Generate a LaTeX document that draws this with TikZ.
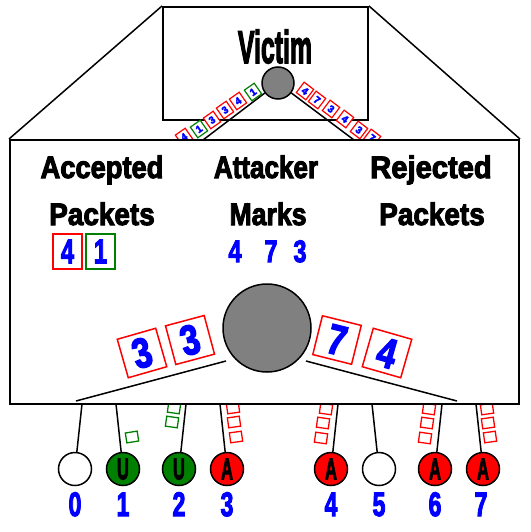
\documentclass[tikz,border=0pt]{standalone}
\usepackage{fontspec}
\usepackage{graphicx}
\setmainfont{Liberation Sans}[BoldFeatures={FakeBold=3.5}]
\definecolor{pred}{HTML}{FF0000}
\definecolor{pgreen}{HTML}{008000}
\definecolor{pblue}{HTML}{0000FF}
\definecolor{pgray}{HTML}{808080}
\newcommand\narrow[2]{\scalebox{#1}[1]{#2}}
\begin{document}
\begin{tikzpicture}[x=1pt,y=-1pt,
  frame/.style={draw=black, line width=2pt, fill=white, inner sep=0pt},
  link/.style={draw=black, line width=1.5pt},
  router/.style={circle, draw=black, line width=1.5pt, fill=pgray, inner sep=0pt},
  host/.style={circle, draw=black, line width=1.5pt, minimum size=33pt, inner sep=0pt, fill=white},
  uhost/.style={host, fill=pgreen},
  ahost/.style={host, fill=pred},
  hostletter/.style={font=\fontsize{30}{30}\selectfont\bfseries, text=black, inner sep=0pt},
  hostnum/.style={anchor=base, font=\fontsize{34}{34}\selectfont\bfseries, text=pblue, inner sep=0pt},
  head/.style={anchor=base, font=\fontsize{31}{31}\selectfont\bfseries, inner sep=0pt},
  pkt/.style={draw=pred, fill=white, line width=1.2pt, minimum width=12pt, minimum height=13pt,
              inner sep=0pt, text=pblue, font=\fontsize{10}{10}\selectfont\bfseries},
  gpkt/.style={pkt, draw=pgreen},
  bigpkt/.style={draw=pred, fill=white, line width=1.5pt, minimum size=40pt, inner sep=0pt,
                 text=pblue, font=\fontsize{42}{42}\selectfont\bfseries},
  markbox/.style={draw=pred, line width=1.5pt, minimum width=29pt, minimum height=35pt, inner sep=0pt,
               text=pblue, font=\fontsize{34}{34}\selectfont\bfseries},
  gmarkbox/.style={markbox, draw=pgreen},
  marknum/.style={anchor=base, font=\fontsize{31}{31}\selectfont\bfseries, text=pblue, inner sep=0pt},
  sq/.style={draw=pred, line width=1.3pt, minimum width=12pt, minimum height=10pt, inner sep=0pt},
  gsq/.style={sq, draw=pgreen}
]
\useasboundingbox (0,0) rectangle (530,532);

% victim enclosure
\node[frame, minimum width=205pt, minimum height=113pt] (topbox) at (265.5,63.5) {};
\node[anchor=base, font=\fontsize{46}{46}\selectfont\bfseries, inner sep=0pt] (victimlabel) at (275,63) {\narrow{0.54}{Victim}};
\node[router, minimum size=32pt] (victim) at (278,83) {};

% upstream links into the victim
\coordinate (vl) at (203,140);
\coordinate (vr) at (354,140);
\draw[link] (victim) -- (vl);
\draw[link] (victim) -- (vr);

% packets travelling on the left link
\node[gpkt, rotate=35] (l1) at (253,92)  {1};
\node[pkt,  rotate=35] (l2) at (238,101) {4};
\node[pkt,  rotate=35] (l3) at (225,110) {3};
\node[pkt,  rotate=35] (l4) at (212,120) {3};
\node[gpkt, rotate=35] (l5) at (199,129) {1};
\node[pkt,  rotate=35] (l6) at (184,137) {4};

% packets travelling on the right link
\node[pkt, rotate=-37] (r1) at (305,91)  {4};
\node[pkt, rotate=-37] (r2) at (317,100) {7};
\node[pkt, rotate=-37] (r3) at (331,109) {3};
\node[pkt, rotate=-37] (r4) at (345,119) {4};
\node[pkt, rotate=-37] (r5) at (359,130) {3};
\node[pkt, rotate=-37] (r6) at (372,138) {7};

% end hosts
\node[host]  (h0) at (75,469)  {};
\node[uhost] (h1) at (123,469) {};
\node[uhost] (h2) at (179,469) {};
\node[ahost] (h3) at (227,469) {};
\node[ahost] (h4) at (331,469) {};
\node[host]  (h5) at (379,469) {};
\node[ahost] (h6) at (435,469) {};
\node[ahost] (h7) at (483,469) {};

\node[hostletter] (u1) at (h1) {\narrow{0.55}{U}};
\node[hostletter] (u2) at (h2) {\narrow{0.55}{U}};
\node[hostletter] (a3) at (h3) {\narrow{0.55}{A}};
\node[hostletter] (a4) at (h4) {\narrow{0.55}{A}};
\node[hostletter] (a6) at (h6) {\narrow{0.55}{A}};
\node[hostletter] (a7) at (h7) {\narrow{0.55}{A}};

% host access links
\coordinate (t0) at (82,404);
\coordinate (t1) at (116,404);
\coordinate (t2) at (186,404);
\coordinate (t3) at (220,404);
\coordinate (t4) at (338,404);
\coordinate (t5) at (372,404);
\coordinate (t6) at (442,404);
\coordinate (t7) at (476,404);
\foreach \i in {0,...,7} { \draw[link] (t\i) -- (h\i); }

% packets leaving the hosts
\node[gsq, rotate=9]  (s11) at (132,437) {};
\node[gsq, rotate=-8] (s21) at (172,422) {};
\node[gsq, rotate=-8] (s22) at (174,408) {};
\node[sq,  rotate=8]  (s31) at (236,437) {};
\node[sq,  rotate=8]  (s32) at (234,422) {};
\node[sq,  rotate=8]  (s33) at (233,408) {};
\node[sq,  rotate=-8] (s41) at (321,438) {};
\node[sq,  rotate=-8] (s42) at (323,423) {};
\node[sq,  rotate=-8] (s43) at (326,409) {};
\node[sq,  rotate=-8] (s61) at (425,438) {};
\node[sq,  rotate=-8] (s62) at (427,423) {};
\node[sq,  rotate=-8] (s63) at (429,409) {};
\node[sq,  rotate=8]  (s71) at (490,437) {};
\node[sq,  rotate=8]  (s72) at (488,423) {};
\node[sq,  rotate=8]  (s73) at (487,409) {};

% magnified view of the edge router
\node[frame, minimum width=509pt, minimum height=264pt] (bigbox) at (264.5,272) {};
\draw[link] (topbox.north west) -- (bigbox.north west);
\draw[link] (topbox.north east) -- (bigbox.north east);

\node[head] (acc1) at (102,178) {\narrow{0.88}{Accepted}};
\node[head] (acc2) at (102,225) {\narrow{0.9}{Packets}};
\node[head] (att1) at (266,178) {\narrow{0.84}{Attacker}};
\node[head] (att2) at (268,225) {\narrow{0.86}{Marks}};
\node[head] (rej1) at (431,178) {\narrow{0.94}{Rejected}};
\node[head] (rej2) at (432,225) {\narrow{0.9}{Packets}};

\node[markbox]  (acc4) at (67.5,251.5)  {\narrow{0.7}{4}};
\node[gmarkbox] (acc1b) at (100.5,251.5) {\narrow{0.7}{1}};

\node[marknum] (m4) at (235,262) {\narrow{0.75}{4}};
\node[marknum] (m7) at (271,262) {\narrow{0.75}{7}};
\node[marknum] (m3) at (300,262) {\narrow{0.75}{3}};

\node[router, minimum size=88pt] (edge) at (267,328) {};

\coordinate (el) at (226,361);
\coordinate (elend) at (76,401);
\coordinate (er) at (306,361);
\coordinate (erend) at (457,401);
\draw[link] (el) -- (elend);
\draw[link] (er) -- (erend);

\node[bigpkt, rotate=16]  (b1) at (142,353) {\narrow{0.8}{3}};
\node[bigpkt, rotate=15]  (b2) at (190,340) {\narrow{0.8}{3}};
\node[bigpkt, rotate=-14] (b3) at (337,340) {\narrow{0.8}{7}};
\node[bigpkt, rotate=-16] (b4) at (387,353) {\narrow{0.8}{4}};

% host numbers
\node[hostnum] (n0) at (75,516)  {\narrow{0.68}{0}};
\node[hostnum] (n1) at (123,516) {\narrow{0.68}{1}};
\node[hostnum] (n2) at (179,516) {\narrow{0.68}{2}};
\node[hostnum] (n3) at (227,516) {\narrow{0.68}{3}};
\node[hostnum] (n4) at (331,516) {\narrow{0.68}{4}};
\node[hostnum] (n5) at (379,516) {\narrow{0.68}{5}};
\node[hostnum] (n6) at (435,516) {\narrow{0.68}{6}};
\node[hostnum] (n7) at (481,516) {\narrow{0.68}{7}};
\end{tikzpicture}
\end{document}
